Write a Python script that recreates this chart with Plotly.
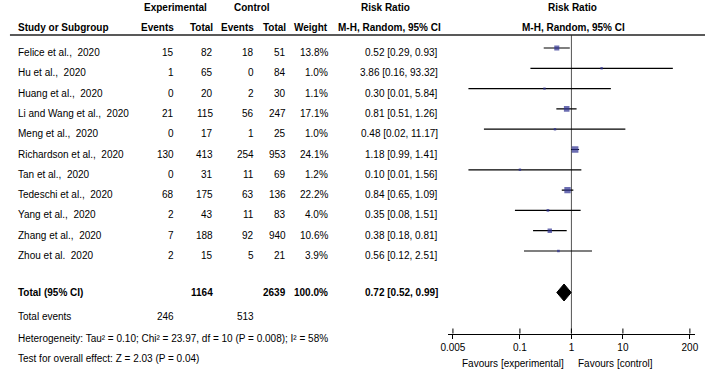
import math
import plotly.graph_objects as go

# ---------------- data ----------------
studies = ["Felice et al.,  2020", "Hu et al.,  2020", "Huang et al.,  2020",
           "Li and Wang et al.,  2020", "Meng et al.,  2020", "Richardson et al.,  2020",
           "Tan et al.,  2020", "Tedeschi et al.,  2020", "Yang et al.,  2020",
           "Zhang et al.,  2020", "Zhou et al.  2020"]
exp_events = [15, 1, 0, 21, 0, 130, 0, 68, 2, 7, 2]
exp_total = [82, 65, 20, 115, 17, 413, 31, 175, 43, 188, 15]
ctl_events = [18, 0, 2, 56, 1, 254, 11, 63, 11, 92, 5]
ctl_total = [51, 84, 30, 247, 25, 953, 69, 136, 83, 940, 21]
weights = [13.8, 1.0, 1.1, 17.1, 1.0, 24.1, 1.2, 22.2, 4.0, 10.6, 3.9]
rr = [0.52, 3.86, 0.30, 0.81, 0.48, 1.18, 0.10, 0.84, 0.35, 0.38, 0.56]
rr_lo = [0.29, 0.16, 0.01, 0.51, 0.02, 0.99, 0.01, 0.65, 0.08, 0.18, 0.12]
rr_hi = [0.93, 93.32, 5.84, 1.26, 11.17, 1.41, 1.56, 1.09, 1.51, 0.81, 2.51]

total_exp = 1164
total_ctl = 2639
total_weight = "100.0%"
total_rr, total_lo, total_hi = 0.72, 0.52, 0.99
total_exp_events = 246
total_ctl_events = 513
heterogeneity = "Heterogeneity: Tau² = 0.10; Chi² = 23.97, df = 10 (P = 0.008); I² = 58%"
overall_test = "Test for overall effect: Z = 2.03 (P = 0.04)"
tick_vals = [0.005, 0.1, 1, 10, 200]
tick_text = ["0.005", "0.1", "1", "10", "200"]

# ---------------- layout helpers ----------------
W, H = 709, 374
FONT = "Liberation Sans, Arial, sans-serif"
FS = 10
BLUE = "#2E3192"

ROW0, DY = 52.5, 20.3
row_y = [ROW0 + DY * i for i in range(len(studies))]
total_y = 292.5
events_y = 316.7
het_y = 338.0
test_y = 358.0
axis_y = 333.5

# axis mapping (px -> log10)
scale = 52.3
x1px = 573.3
ax_left, ax_right = 447.5, 698.5
rng = [(ax_left - x1px) / scale, (ax_right - x1px) / scale]

annots = []


def txt(x, y, s, anchor="left", bold=False):
    annots.append(dict(x=x / W, xref="paper", y=y, yref="y", text=("<b>%s</b>" % s) if bold else s,
                       showarrow=False, xanchor=anchor, yanchor="middle",
                       font=dict(family=FONT, size=FS, color="black")))


# headers
txt(171, 7, "Experimental", "center", True)
txt(248.5, 7, "Control", "center", True)
txt(384, 7, "Risk Ratio", "center", True)
txt(574, 7, "Risk Ratio", "center", True)
txt(9, 27, "Study or Subgroup", "left", True)
txt(172, 27, "Events", "right", True)
txt(211.7, 27, "Total", "right", True)
txt(253, 27, "Events", "right", True)
txt(285.7, 27, "Total", "right", True)
txt(327.7, 27, "Weight", "right", True)
txt(443, 27, "M-H, Random, 95% CI", "right", True)
txt(575, 27, "M-H, Random, 95% CI", "center", True)

for i, s in enumerate(studies):
    y = row_y[i]
    txt(9, y, s)
    txt(172, y, str(exp_events[i]), "right")
    txt(211.7, y, str(exp_total[i]), "right")
    txt(253, y, str(ctl_events[i]), "right")
    txt(285.7, y, str(ctl_total[i]), "right")
    txt(327.7, y, "%.1f%%" % weights[i], "right")
    txt(440, y, "%.2f [%.2f, %.2f]" % (rr[i], rr_lo[i], rr_hi[i]), "right")

txt(9, total_y, "Total (95% CI)", "left", True)
txt(211.7, total_y, str(total_exp), "right", True)
txt(285.7, total_y, str(total_ctl), "right", True)
txt(327.7, total_y, total_weight, "right", True)
txt(440, total_y, "%.2f [%.2f, %.2f]" % (total_rr, total_lo, total_hi), "right", True)
txt(9, events_y, "Total events")
txt(172, events_y, str(total_exp_events), "right")
txt(253, events_y, str(total_ctl_events), "right")
txt(9, het_y, heterogeneity)
txt(9, test_y, overall_test)
txt(568, 363.5, "Favours [experimental]", "right")
txt(578, 363.5, "Favours [control]", "left")

fig = go.Figure()

# line of no effect
fig.add_trace(go.Scatter(x=[1, 1], y=[35, axis_y], mode="lines",
                         line=dict(color="#555555", width=1), hoverinfo="skip", showlegend=False))
# upper halves of tick marks
for tv in tick_vals:
    fig.add_trace(go.Scatter(x=[tv, tv], y=[axis_y - 5, axis_y], mode="lines",
                             line=dict(color="black", width=1), hoverinfo="skip", showlegend=False))

# CI lines
mk_y = [y - 4.5 for y in row_y]
for i in range(len(studies)):
    fig.add_trace(go.Scatter(x=[rr_lo[i], rr_hi[i]], y=[mk_y[i], mk_y[i]], mode="lines",
                             line=dict(color="black", width=1.2), hoverinfo="skip", showlegend=False))
# point estimates
sizes = [max(2.4, 13.5 * math.sqrt(w / 100)) for w in weights]
fig.add_trace(go.Scatter(x=rr, y=mk_y, mode="markers",
                         marker=dict(symbol="square", size=sizes, color=BLUE, line=dict(width=0)),
                         hoverinfo="skip", showlegend=False))
# pooled diamond
fig.add_trace(go.Scatter(x=[total_lo, total_rr, total_hi, total_rr, total_lo],
                         y=[total_y, total_y - 8.5, total_y, total_y + 8.5, total_y],
                         mode="lines", fill="toself", fillcolor="black",
                         line=dict(color="black", width=1), hoverinfo="skip", showlegend=False))

fig.update_layout(
    width=W, height=H, margin=dict(l=0, r=0, t=0, b=0),
    paper_bgcolor="white", plot_bgcolor="rgba(0,0,0,0)",
    annotations=annots,
    shapes=[dict(type="line", xref="paper", x0=3 / W, x1=1, yref="y", y0=35, y1=35,
                 line=dict(color="#222222", width=1.6))],
    xaxis=dict(type="log", range=rng, domain=[ax_left / W, ax_right / W],
               anchor="free", position=1 - axis_y / H,
               showline=True, linecolor="black", linewidth=1.3,
               ticks="outside", ticklen=4.5, tickcolor="black", tickwidth=1,
               tickvals=tick_vals, ticktext=tick_text, showgrid=False, zeroline=False,
               tickfont=dict(family=FONT, size=FS, color="black")),
    yaxis=dict(range=[H, 0], domain=[0, 1], visible=False, showgrid=False, zeroline=False),
)

fig.write_html("out.html", config={"displayModeBar": False},
               post_script="document.body.style.margin='0';document.body.style.overflow='hidden';")
